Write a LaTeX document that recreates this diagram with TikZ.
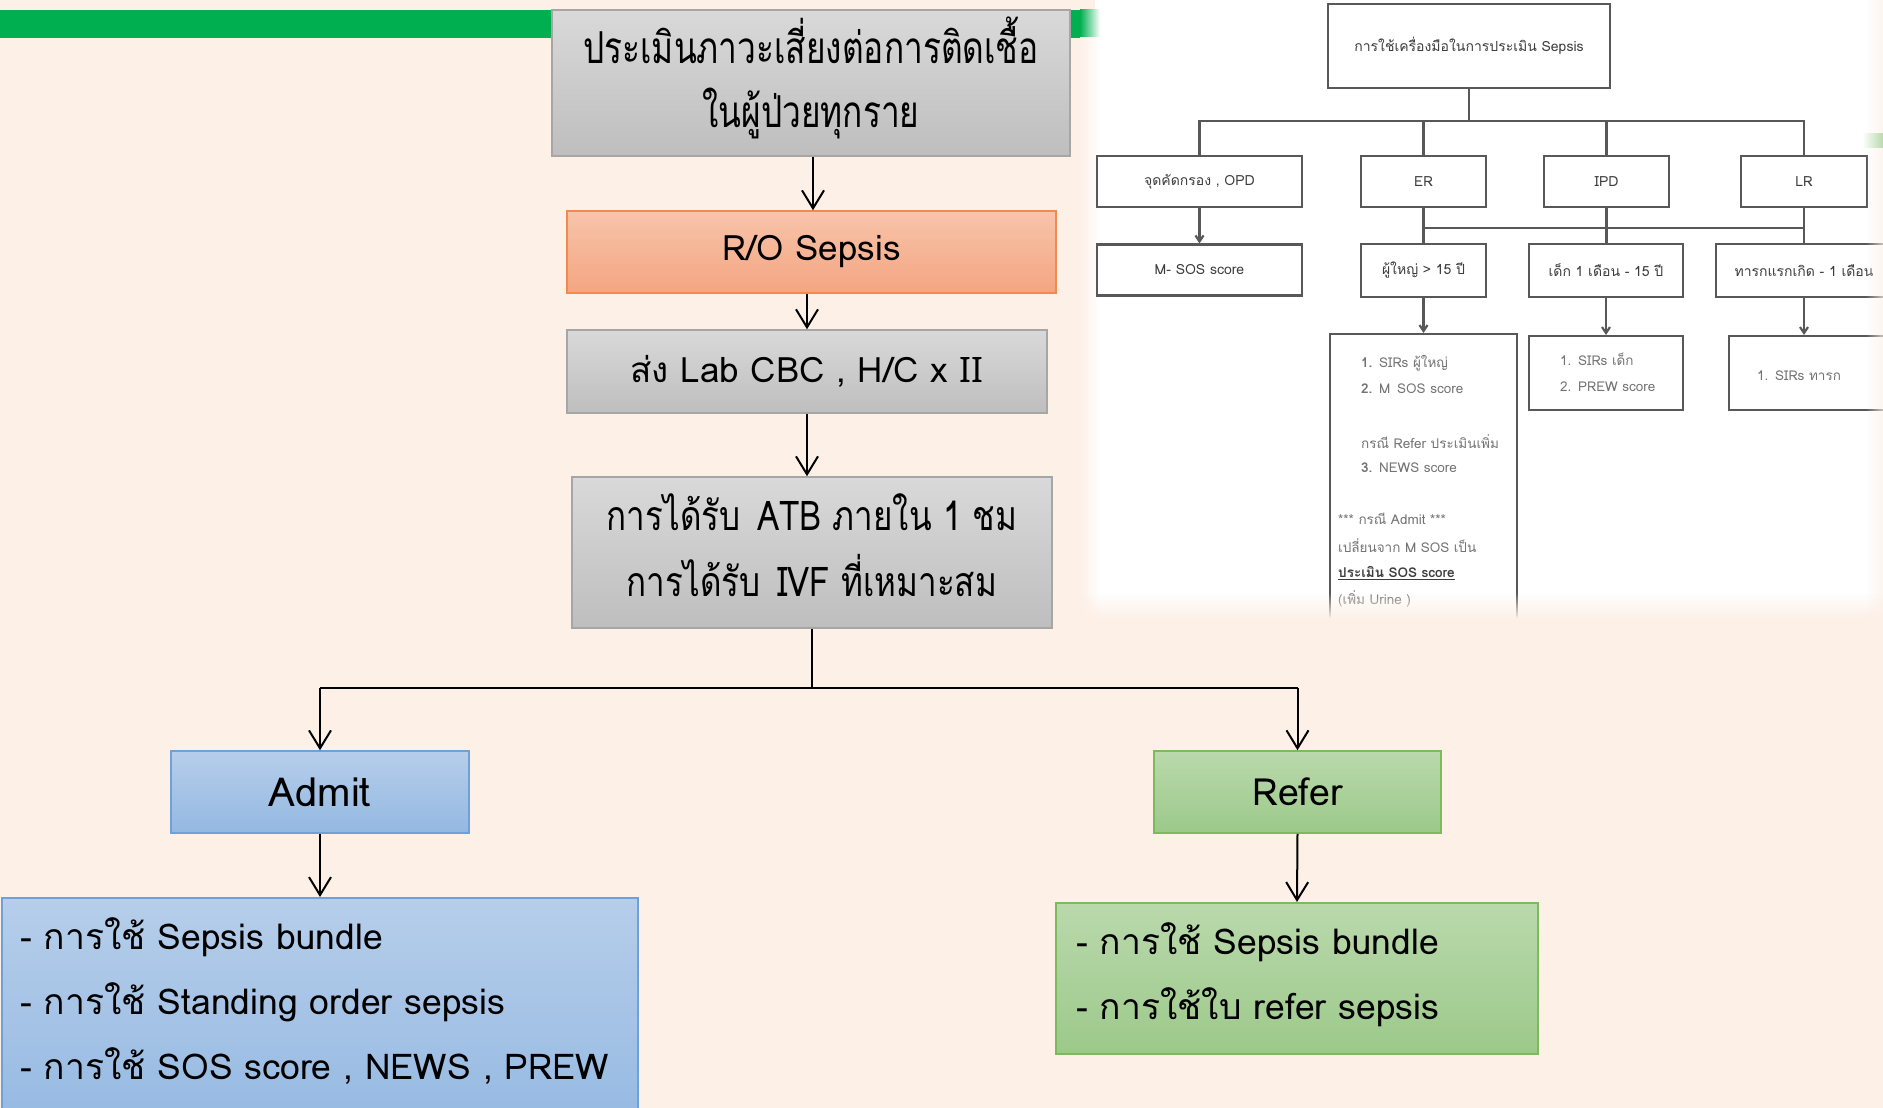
\documentclass[tikz,border=0pt]{standalone}
\usepackage{fontspec}
\newfontfamily\thai[Script=Thai]{Loma}
\newfontfamily\latin{Noto Sans}
\usetikzlibrary{arrows.meta}

\definecolor{bgpeach}{RGB}{253,240,231}
\definecolor{slidegreen}{RGB}{0,176,80}
\definecolor{greytop}{RGB}{217,217,217}
\definecolor{greybot}{RGB}{190,190,190}
\definecolor{greyline}{RGB}{166,166,166}
\definecolor{orangetop}{RGB}{248,196,170}
\definecolor{orangebot}{RGB}{244,165,130}
\definecolor{orangeline}{RGB}{240,138,78}
\definecolor{bluetop}{RGB}{182,206,234}
\definecolor{bluebot}{RGB}{148,184,226}
\definecolor{blueline}{RGB}{110,160,218}
\definecolor{greentop}{RGB}{186,217,172}
\definecolor{greenbot}{RGB}{156,201,138}
\definecolor{greenline}{RGB}{124,186,92}
\definecolor{chartink}{RGB}{88,88,88}
\definecolor{charttext}{RGB}{60,60,60}
\definecolor{chartsoft}{RGB}{115,115,115}

\newcommand{\narrow}[2][0.76]{\scalebox{#1}[1]{#2}}

\tikzset{
  flowbox/.style={rectangle, inner sep=0pt, line width=1.5pt},
  greybox/.style={flowbox, draw=greyline, top color=greytop, bottom color=greybot},
  orangebox/.style={flowbox, draw=orangeline, top color=orangetop, bottom color=orangebot},
  bluebox/.style={flowbox, draw=blueline, top color=bluetop, bottom color=bluebot},
  greenbox/.style={flowbox, draw=greenline, top color=greentop, bottom color=greenbot},
  bigtext/.style={font=\thai\fontsize{35}{40}\selectfont, text=black},
  tagtext/.style={font=\thai\fontsize{37.5}{42}\selectfont, text=black},
  listtext/.style={font=\thai\fontsize{35.5}{65}\selectfont, text=black, align=left, inner sep=0pt},
  flowarrow/.style={line width=2pt, -{Straight Barb[length=18pt,width=22pt]}},
  flowline/.style={line width=1.8pt},
  chartbox/.style={rectangle, draw=chartink, line width=2.2pt, fill=white, inner sep=0pt,
                   font=\thai\fontsize{14}{16}\selectfont, text=charttext},
  chartlink/.style={draw=chartink, line width=2.2pt},
  chartarrow/.style={chartlink, -{Straight Barb[length=6pt,width=8pt]}},
  chartitem/.style={font=\thai\fontsize{13.5}{16}\selectfont, text=chartsoft, anchor=west, inner sep=0pt},
}

\begin{document}
\begin{tikzpicture}[x=1pt, y=-1pt]
\clip (0,0) rectangle (1883,1108);
\fill[bgpeach] (0,0) rectangle (1883,1108);

% green band across the top of the slide
\fill[slidegreen] (0,10) rectangle (1085,38);

% ---------- pasted chart of assessment tools (upper right) ----------
\fill[white] (1095,-5) rectangle (1890,700);
\shade[left color=slidegreen, right color=white] (1080,10) rectangle (1100,38);
\shade[left color=bgpeach, right color=white] (1080,38) rectangle (1100,615);

\node[chartbox, minimum width=282pt, minimum height=84pt] (tool) at (1469,46)
  {การใช้เครื่องมือในการประเมิน Sepsis};

\node[chartbox, minimum width=205pt, minimum height=51pt] (opd) at (1199.5,181.5) {จุดคัดกรอง , OPD};
\node[chartbox, minimum width=125pt, minimum height=51pt] (er)  at (1423.5,181.5) {ER};
\node[chartbox, minimum width=125pt, minimum height=51pt] (ipd) at (1606.5,181.5) {IPD};
\node[chartbox, minimum width=126pt, minimum height=51pt] (lr)  at (1804,181.5) {LR};

\coordinate (busA) at (1469,121);
\draw[chartlink] (tool.south) -- (tool.south |- busA);
\draw[chartlink] (opd.north) |- (busA) -| (lr.north);
\draw[chartlink] (er.north) -- (er.north |- busA);
\draw[chartlink] (ipd.north) -- (ipd.north |- busA);

\node[chartbox, minimum width=205pt, minimum height=51pt] (msos)  at (1199.5,270) {M- SOS score};
\node[chartbox, minimum width=125pt, minimum height=53pt] (adult) at (1423.5,270.5) {ผู้ใหญ่ > 15 ปี};
\node[chartbox, minimum width=154pt, minimum height=53pt] (child) at (1606,270.5) {เด็ก 1 เดือน - 15 ปี};
\node[chartbox, minimum width=176pt, minimum height=53pt] (baby)  at (1804,270.5) {ทารกแรกเกิด - 1 เดือน};

\draw[chartarrow] (opd.south) -- (msos.north);
\coordinate (busB) at (1423.5,228);
\draw[chartlink] (busB) -- (busB -| lr.south);
\draw[chartlink] (er.south) -- (adult.north);
\draw[chartlink] (ipd.south) -- (ipd.south |- child.north);
\draw[chartlink] (lr.south) -- (lr.south |- baby.north);

\node[chartbox, minimum width=187pt, minimum height=420pt, anchor=north] (adultlist) at (1423.5,333) {};
\node[chartbox, minimum width=154pt, minimum height=74pt, anchor=north] (childlist) at (1606,335) {};
\node[chartbox, minimum width=164pt, minimum height=74pt, anchor=north west] (babylist) at (1728,335) {};

\draw[chartarrow] (adult.south) -- (adultlist.north);
\draw[chartarrow] (child.south) -- (child.south |- childlist.north);
\draw[chartarrow] (baby.south) -- (baby.south |- babylist.north);

\node[chartitem] (a1) at (1361,363) {\textbf{1.}\enspace SIRs ผู้ใหญ่};
\node[chartitem] (a2) at (1361,389) {\textbf{2.}\enspace M\enspace SOS score};
\node[chartitem] (a3) at (1361,442) {กรณี Refer ประเมินเพิ่ม};
\node[chartitem] (a4) at (1361,468) {\textbf{3.}\enspace NEWS score};
\node[chartitem] (a5) at (1338,519) {*** กรณี Admit ***};
\node[chartitem] (a6) at (1338,546) {เปลี่ยนจาก M SOS เป็น};
\node[chartitem, text=charttext] (a7) at (1338,573) {\underline{\textbf{ประเมิน SOS score}}};
\node[chartitem] (a8) at (1338,599) {(เพิ่ม Urine )};
\node[chartitem] (c1) at (1560,359) {1.\enspace SIRs เด็ก};
\node[chartitem] (c2) at (1560,387) {2.\enspace PREW score};
\node[chartitem] (b1) at (1757,376) {1.\enspace SIRs ทารก};

% soft lower and right edges of the pasted chart
\foreach \i in {0,...,13} {
  \fill[bgpeach, opacity=\i/13] (1080,592+2*\i) rectangle (1890,594+2*\i);
}
\fill[bgpeach] (1080,620) rectangle (1890,760);
\foreach \i in {0,...,9} {
  \fill[bgpeach, opacity=0.08*\i] (1865+2*\i,-5) rectangle (1867+2*\i,620);
}
\shade[left color=white, right color=greentop] (1862,133) rectangle (1883,147);

% ---------- main flow ----------
\node[greybox, minimum width=518pt, minimum height=146pt] (assess) at (811,83) {};
\node[font=\thai\fontsize{44}{64}\selectfont, align=center, inner sep=0pt] (assesstext) at (811,78)
  {\narrow{ประเมินภาวะเสี่ยงต่อการติดเชื้อ}\\\narrow{ในผู้ป่วยทุกราย}};
\node[orangebox, minimum width=489pt, minimum height=82pt, bigtext] (ro) at (811.5,252) {R/O Sepsis};
\node[greybox, minimum width=480pt, minimum height=83pt, bigtext] (lab) at (807,371.5) {ส่ง Lab CBC , H/C x {\latin II}};
\node[greybox, minimum width=480pt, minimum height=151pt] (atb) at (812,552.5) {};
\node[font=\thai\fontsize{41}{66}\selectfont, align=center, inner sep=0pt] (atbtext) at (812,545)
  {\narrow[0.81]{การได้รับ\enspace ATB ภายใน 1 ชม}\\\narrow[0.81]{การได้รับ\enspace IVF ที่เหมาะสม}};

\draw[flowarrow] (assess.south -| 813,0) -- (ro.north -| 813,0);
\draw[flowarrow] (ro.south -| lab.north) -- (lab.north);
\draw[flowarrow] (lab.south) -- (lab.south |- atb.north);

\node[bluebox, minimum width=298pt, minimum height=82pt, tagtext, font=\thai\fontsize{40}{44}\selectfont] (admit) at (320,792) {Admit};
\node[greenbox, minimum width=287pt, minimum height=82pt, tagtext] (refer) at (1297.5,792) {Refer};

\coordinate (split) at (812,688);
\draw[flowline] (atb.south) -- (split);
\draw[flowline] (admit.north |- split) -- (refer.north |- split);
\draw[flowarrow] (admit.north |- split) -- (admit.north);
\draw[flowarrow] (refer.north |- split) -- (refer.north);

\node[bluebox, minimum width=636pt, minimum height=240pt, anchor=north] (admitlist) at (320,897) {};
\node[greenbox, minimum width=482pt, minimum height=151pt, anchor=north] (referlist) at (1297,902) {};

\draw[flowarrow] (admit.south) -- (admitlist.north);
\draw[flowarrow] (refer.south) -- (referlist.north);

\node[listtext, anchor=north west] (admittext) at (20,917)
  {- การใช้ Sepsis bundle\\- การใช้ Standing order sepsis\\- การใช้ SOS score , NEWS , PREW};
\node[listtext, anchor=north west] (refertext) at (1076,922)
  {- การใช้ Sepsis bundle\\- การใช้ใบ refer sepsis};
\end{tikzpicture}
\end{document}
